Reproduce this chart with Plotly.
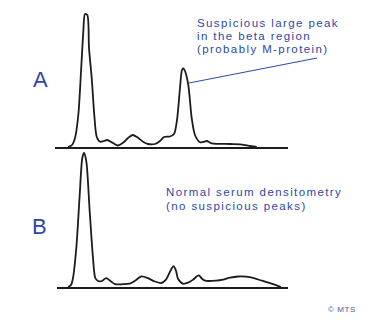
import plotly.graph_objects as go

# Densitometry traces: position along the strip (arbitrary units) and optical density
pos_a = [13, 17, 20, 23.3, 26, 28.3, 30, 32.3, 34, 36.7, 39.3, 41.7, 45, 49, 52, 58, 63, 69, 73,
         77.7, 82, 88, 93, 100, 105, 109, 115, 119, 122, 125, 127, 128.3, 130, 133.3, 136.7, 140,
         145, 148, 151.7, 156.7, 175, 185, 193, 201.7]
dens_a = [0, 2, 9, 32, 75, 115, 133, 132, 99, 69, 32, 10.3, 5.3, 6, 7, 4, 1.5, 5, 9,
          12, 10, 5.3, 3, 3, 6, 10, 10.5, 13, 27, 59, 77, 78.5, 76, 62, 29, 12,
          4.7, 5, 6, 3.7, 3, 2.7, 1.3, 0]

pos_b = [13, 16, 18, 21.3, 24.7, 27.3, 29, 31.3, 34.7, 38, 40.3, 43, 47, 51, 56, 60, 68, 74.7,
         80, 86.5, 93, 99, 106.3, 111, 115, 118.5, 121, 123, 128, 133, 138, 143.7, 147, 150,
         161, 168, 175, 183, 191, 199, 207, 215, 221, 226]
dens_b = [0, 2, 9, 39, 92, 129, 134, 125.6, 75.6, 29, 9, 6, 6, 8.8, 5.6, 2.8, 2.8, 3.3,
          6.3, 10.6, 8.8, 5.8, 4, 7.3, 15.3, 20.8, 16.3, 8.3, 3.3, 4.3, 7.3, 11.6, 8.3, 6.3,
          6.3, 7.3, 9.3, 10.5, 10.3, 8.8, 6.3, 3.8, 1.8, 0]

panel_labels = ["A", "B"]
note_a = ["Suspicious large peak", "in the beta region", "(probably M-protein)"]
note_b = ["Normal serum densitometry", "(no suspicious peaks)"]
credit = "© MTS"

W, H = 375, 325
BLUE = "#2e47a6"
INK = "#1c1c1c"


def px(x):
    return x / W


def py(y):
    return 1 - y / H


def spaced(t, ls=1.4):
    return f'<span style="letter-spacing:{ls}px">{t}</span>'


fig = go.Figure()
fig.add_trace(go.Scatter(x=pos_a, y=dens_a, mode="lines", xaxis="x", yaxis="y",
                         line=dict(color=INK, width=1.8, shape="spline", smoothing=0.8),
                         hoverinfo="skip"))
fig.add_trace(go.Scatter(x=pos_b, y=dens_b, mode="lines", xaxis="x2", yaxis="y2",
                         line=dict(color=INK, width=1.8, shape="spline", smoothing=0.8),
                         hoverinfo="skip"))

axis_common = dict(showgrid=False, zeroline=False, showticklabels=False, ticks="",
                   fixedrange=True)
fig.update_layout(
    width=W, height=H,
    margin=dict(l=0, r=0, t=0, b=0),
    paper_bgcolor="white", plot_bgcolor="rgba(0,0,0,0)",
    showlegend=False,
    xaxis=dict(domain=[px(55), px(288)], range=[0, 233], showline=True,
               linecolor=INK, linewidth=1.6, anchor="y", **axis_common),
    yaxis=dict(domain=[py(147), py(7)], range=[0, 140], showline=False,
               anchor="x", **axis_common),
    xaxis2=dict(domain=[px(57), px(288)], range=[2, 233], showline=True,
                linecolor=INK, linewidth=1.6, anchor="y2", **axis_common),
    yaxis2=dict(domain=[py(287), py(147)], range=[0, 140], showline=False,
                anchor="x2", **axis_common),
)

ann = []
# Panel letters
for lab, (lx, ly) in zip(panel_labels, [(40, 79), (39, 226)]):
    ann.append(dict(text=lab, x=px(lx), y=py(ly), xref="paper", yref="paper",
                    xanchor="center", yanchor="middle", showarrow=False,
                    font=dict(family="Liberation Sans, Arial", size=22, color=BLUE)))
# Notes, one line each
for i, t in enumerate(note_a):
    ann.append(dict(text=spaced(t), x=px(195), y=py(22.7 + 13.3 * i), xref="paper", yref="paper",
                    xanchor="left", yanchor="middle", showarrow=False,
                    font=dict(family="Liberation Sans, Arial", size=11.5, color=BLUE)))
for i, t in enumerate(note_b):
    ann.append(dict(text=spaced(t), x=px(164), y=py(192 + 14 * i), xref="paper", yref="paper",
                    xanchor="left", yanchor="middle", showarrow=False,
                    font=dict(family="Liberation Sans, Arial", size=11.5, color=BLUE)))
ann.append(dict(text=spaced(credit, 0.6), x=px(342), y=py(309), xref="paper", yref="paper",
                xanchor="center", yanchor="middle", showarrow=False,
                font=dict(family="Liberation Sans, Arial", size=8, color="#4a5a9a")))
fig.update_layout(annotations=ann)

# Pointer from the note to the beta peak
fig.add_shape(type="line", xref="paper", yref="paper",
              x0=px(189), y0=py(83), x1=px(317), y1=py(58),
              line=dict(color=BLUE, width=1))

fig.write_html("out.html")
